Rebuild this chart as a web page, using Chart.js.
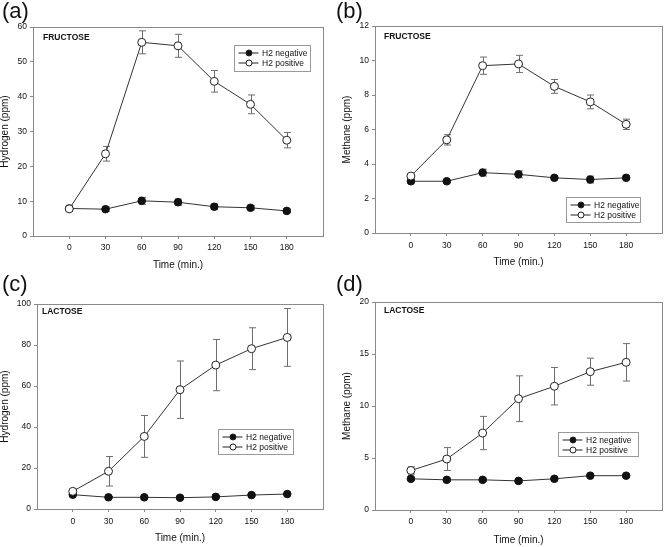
<!DOCTYPE html>
<html>
<head>
<meta charset="utf-8">
<script src="https://cdn.jsdelivr.net/npm/chart.js@4/dist/chart.umd.min.js"></script>
<style>
  body { margin: 0; background: #fff; }
  #wrap { position: relative; width: 667px; height: 547px; overflow: hidden; font-family: "Liberation Sans", Arial, sans-serif; }
  canvas { position: absolute; }
  .tag { position: absolute; font-size: 22px; line-height: 22px; color: #111; }
</style>
</head>
<body>
<div id="wrap">
  <canvas id="chartA" width="333" height="273" style="left:0;top:0"></canvas>
  <canvas id="chartB" width="333" height="273" style="left:334px;top:0"></canvas>
  <canvas id="chartC" width="333" height="274" style="left:0;top:273px"></canvas>
  <canvas id="chartD" width="333" height="274" style="left:334px;top:273px"></canvas>
  <div class="tag" style="left:2px;top:0">(a)</div>
  <div class="tag" style="left:336px;top:0">(b)</div>
  <div class="tag" style="left:2px;top:273px">(c)</div>
  <div class="tag" style="left:336px;top:273px">(d)</div>
</div>
<script>
// Sampling times (minutes)
const timePoints = [0, 30, 60, 90, 120, 150, 180];
const seriesNames = ["H2 negative", "H2 positive"];

// (a) Fructose - hydrogen
const fructoseH2Neg = [7.9, 7.7, 10.1, 9.7, 8.4, 8.1, 7.2];
const fructoseH2NegErr = [0.8, 0.6, 1.0, 0.9, 0.8, 0.6, 0.5];
const fructoseH2Pos = [7.8, 23.6, 55.6, 54.6, 44.4, 37.8, 27.5];
const fructoseH2PosErr = [0.6, 2.1, 3.3, 3.3, 3.1, 2.7, 2.2];

// (b) Fructose - methane
const fructoseCH4Neg = [3.0, 3.0, 3.5, 3.4, 3.2, 3.1, 3.2];
const fructoseCH4NegErr = [0.1, 0.05, 0.2, 0.2, 0.1, 0.2, 0.1];
const fructoseCH4Pos = [3.3, 5.4, 9.7, 9.8, 8.5, 7.6, 6.3];
const fructoseCH4PosErr = [0.1, 0.3, 0.5, 0.5, 0.4, 0.4, 0.3];

// (c) Lactose - hydrogen
const lactoseH2Neg = [7.0, 5.7, 5.7, 5.5, 5.9, 6.8, 7.3];
const lactoseH2NegErr = [0.5, 0.4, 0.4, 0.4, 0.4, 0.5, 0.5];
const lactoseH2Pos = [8.6, 18.4, 35.4, 58.2, 70.2, 78.2, 83.7];
const lactoseH2PosErr = [1.2, 7.2, 10.2, 14.0, 12.5, 10.2, 14.1];

// (d) Lactose - methane
const lactoseCH4Neg = [3.0, 2.9, 2.9, 2.8, 3.0, 3.3, 3.3];
const lactoseCH4NegErr = [0.15, 0.15, 0.15, 0.15, 0.15, 0.15, 0.15];
const lactoseCH4Pos = [3.8, 4.9, 7.4, 10.7, 11.9, 13.3, 14.2];
const lactoseCH4PosErr = [0.35, 1.1, 1.6, 2.2, 1.8, 1.3, 1.8];

const FONT = "'Liberation Sans', Arial, sans-serif";
const AXIS_GREY = "#8a8a8a";

// error bars drawn under the markers
const errorBars = {
  id: "errorBars",
  beforeDatasetsDraw(chart) {
    const { ctx, scales } = chart;
    ctx.save();
    ctx.strokeStyle = "#6e6e6e";
    ctx.lineWidth = 1;
    chart.data.datasets.forEach((ds) => {
      if (!ds.errors) return;
      ds.data.forEach((p, i) => {
        const e = ds.errors[i];
        const x = Math.round(scales.x.getPixelForValue(p.x)) + 0.5;
        const yTop = scales.y.getPixelForValue(p.y + e);
        const yBot = scales.y.getPixelForValue(p.y - e);
        ctx.beginPath();
        ctx.moveTo(x, yTop); ctx.lineTo(x, yBot);
        ctx.moveTo(x - 3.5, yTop); ctx.lineTo(x + 3.5, yTop);
        ctx.moveTo(x - 3.5, yBot); ctx.lineTo(x + 3.5, yBot);
        ctx.stroke();
      });
    });
    ctx.restore();
  }
};

// closed frame, sugar label and inset legend
const panelDecor = {
  id: "panelDecor",
  afterDraw(chart, args, opts) {
    const { ctx, chartArea: a } = chart;
    ctx.save();
    ctx.strokeStyle = AXIS_GREY;
    ctx.lineWidth = 1;
    ctx.strokeRect(Math.round(a.left) + 0.5, Math.round(a.top) + 0.5,
      Math.round(a.right - a.left), Math.round(a.bottom - a.top));

    ctx.fillStyle = "#111";
    ctx.font = "bold 8.5px " + FONT;
    ctx.textBaseline = "middle";
    ctx.textAlign = "left";
    ctx.fillText(opts.label, a.left + opts.labelDx, a.top + opts.labelDy);

    const lg = opts.legend;
    ctx.fillStyle = "#fff";
    ctx.fillRect(lg.x, lg.y, lg.w, lg.h);
    ctx.strokeStyle = "#999";
    ctx.strokeRect(lg.x + 0.5, lg.y + 0.5, lg.w, lg.h);
    ctx.font = "8.5px " + FONT;
    chart.data.datasets.slice().reverse().forEach((ds, i) => {
      const cy = lg.y + 8 + i * 10;
      ctx.strokeStyle = "#222";
      ctx.beginPath();
      ctx.moveTo(lg.x + 4.5, cy); ctx.lineTo(lg.x + 24.5, cy);
      ctx.stroke();
      ctx.beginPath();
      ctx.arc(lg.x + 15, cy, 3, 0, Math.PI * 2);
      ctx.fillStyle = ds.pointBackgroundColor;
      ctx.fill();
      ctx.stroke();
      ctx.fillStyle = "#111";
      ctx.fillText(ds.label, lg.x + 28, cy + 0.5);
    });
    ctx.restore();
  }
};

function points(values) {
  return values.map((v, i) => ({ x: timePoints[i], y: v }));
}

function makePanel(id, cfg) {
  const canvas = document.getElementById(id);
  const H = canvas.height, W = canvas.width;
  return new Chart(canvas, {
    type: "line",
    data: {
      datasets: [
        {
          label: seriesNames[1],
          data: points(cfg.pos),
          errors: cfg.posErr,
          borderColor: "#333",
          borderWidth: 1,
          pointRadius: 4,
          pointBorderWidth: 1,
          pointBorderColor: "#222",
          pointBackgroundColor: "#fff"
        },
        {
          label: seriesNames[0],
          data: points(cfg.neg),
          errors: cfg.negErr,
          borderColor: "#333",
          borderWidth: 1,
          pointRadius: 3.8,
          pointBorderWidth: 1,
          pointBorderColor: "#111",
          pointBackgroundColor: "#111"
        }
      ]
    },
    options: {
      responsive: false,
      animation: false,
      devicePixelRatio: 1,
      layout: { padding: { top: cfg.area.top, right: W - cfg.area.right, left: 0, bottom: 0 } },
      plugins: {
        legend: { display: false },
        tooltip: { enabled: false },
        panelDecor: { label: cfg.sugar, labelDx: cfg.labelDx, labelDy: cfg.labelDy, legend: cfg.legend }
      },
      scales: {
        x: {
          type: "linear",
          min: -30,
          max: 210,
          afterBuildTicks: (s) => { s.ticks = timePoints.map((v) => ({ value: v })); },
          afterFit: (s) => { s.height = H - cfg.area.bottom; },
          grid: { drawOnChartArea: false, drawTicks: true, tickLength: 3, color: AXIS_GREY },
          border: { display: true, color: AXIS_GREY },
          ticks: { color: "#111", padding: cfg.xTickPad, maxRotation: 0, font: { family: FONT, size: 8.5 } },
          title: { display: true, text: "Time (min.)", color: "#111", padding: { top: 0, bottom: cfg.xTitlePad }, font: { family: FONT, size: 10, lineHeight: 1.2 } }
        },
        y: {
          min: 0,
          max: cfg.yMax,
          ticks: { stepSize: cfg.yStep, color: "#111", padding: 3, font: { family: FONT, size: 8.5 } },
          afterFit: (s) => { s.width = cfg.area.left; },
          grid: { drawOnChartArea: false, drawTicks: true, tickLength: 3, color: AXIS_GREY },
          border: { display: true, color: AXIS_GREY },
          title: { display: true, text: cfg.yTitle, color: "#111", padding: { top: cfg.yTitlePad, bottom: 0 }, font: { family: FONT, size: 10, lineHeight: 1.2 } }
        }
      }
    },
    plugins: [errorBars, panelDecor]
  });
}

makePanel("chartA", {
  pos: fructoseH2Pos, posErr: fructoseH2PosErr, neg: fructoseH2Neg, negErr: fructoseH2NegErr,
  yMax: 60, yStep: 10, yTitle: "Hydrogen (ppm)", sugar: "FRUCTOSE",
  area: { left: 33, top: 27, right: 323, bottom: 236 },
  xTickPad: 4, xTitlePad: 2, yTitlePad: -1, labelDx: 10, labelDy: 10.5,
  legend: { x: 234, y: 45, w: 76, h: 26 }
});

makePanel("chartB", {
  pos: fructoseCH4Pos, posErr: fructoseCH4PosErr, neg: fructoseCH4Neg, negErr: fructoseCH4NegErr,
  yMax: 12, yStep: 2, yTitle: "Methane (ppm)", sugar: "FRUCTOSE",
  area: { left: 41, top: 26, right: 332, bottom: 233 },
  xTickPad: 5, xTitlePad: 5, yTitlePad: 7, labelDx: 9, labelDy: 10.5,
  legend: { x: 232, y: 197, w: 74, h: 25 }
});

makePanel("chartC", {
  pos: lactoseH2Pos, posErr: lactoseH2PosErr, neg: lactoseH2Neg, negErr: lactoseH2NegErr,
  yMax: 100, yStep: 20, yTitle: "Hydrogen (ppm)", sugar: "LACTOSE",
  area: { left: 37, top: 31, right: 323, bottom: 236 },
  xTickPad: 5, xTitlePad: 3, yTitlePad: -1, labelDx: 5, labelDy: 8,
  legend: { x: 218, y: 156, w: 75, h: 25 }
});

makePanel("chartD", {
  pos: lactoseCH4Pos, posErr: lactoseCH4PosErr, neg: lactoseCH4Neg, negErr: lactoseCH4NegErr,
  yMax: 20, yStep: 5, yTitle: "Methane (ppm)", sugar: "LACTOSE",
  area: { left: 41, top: 29, right: 332, bottom: 237 },
  xTickPad: 4, xTitlePad: 1, yTitlePad: 7, labelDx: 9, labelDy: 8.5,
  legend: { x: 224, y: 159, w: 80, h: 24 }
});
</script>
</body>
</html>
